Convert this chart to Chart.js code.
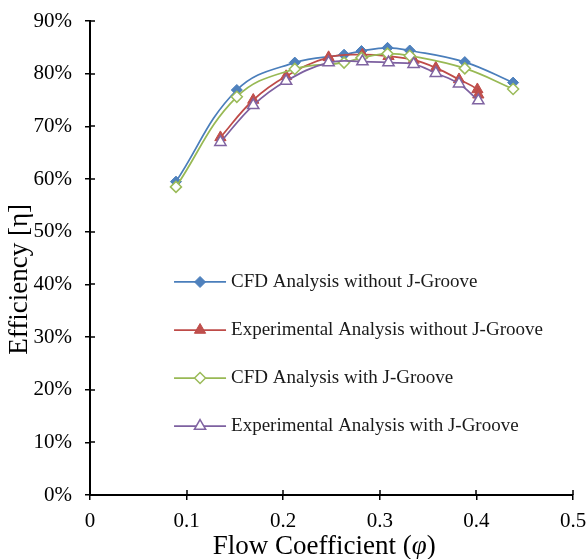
<!DOCTYPE html>
<html>
<head>
<meta charset="utf-8">
<script src="https://cdn.jsdelivr.net/npm/chart.js"></script>
<style>
  html, body { margin: 0; padding: 0; background: #ffffff; }
  #wrap { width: 587px; height: 559px; position: relative; }
  canvas { display: block; }
</style>
</head>
<body>
<div id="wrap"><canvas id="chart" width="587" height="559"></canvas></div>
<script>
// Flow coefficient (phi) at each operating point
const phiCfd = [0.089, 0.152, 0.212, 0.263, 0.281, 0.308, 0.331, 0.388, 0.438];
const phiExpWithout = [0.135, 0.169, 0.203, 0.247, 0.282, 0.309, 0.335, 0.358, 0.382, 0.401, 0.402];
const phiExpWith = [0.135, 0.169, 0.203, 0.247, 0.282, 0.309, 0.335, 0.358, 0.382, 0.402];

// Efficiency in percent
const effCfdWithout = [59.5, 76.9, 82.1, 83.6, 84.3, 84.9, 84.4, 82.2, 78.3];
const effExpWithout = [67.9, 75.0, 79.5, 83.1, 83.6, 83.3, 82.6, 81.1, 78.9, 77.0, 76.0];
const effCfdWith = [58.5, 75.6, 80.9, 82.1, 83.0, 83.8, 83.4, 81.0, 77.1];
const effExpWith = [67.0, 74.0, 78.6, 82.1, 82.3, 82.1, 81.8, 80.1, 78.1, 74.9];

const seriesNames = [
  'CFD Analysis without J-Groove',
  'Experimental Analysis without J-Groove',
  'CFD Analysis with J-Groove',
  'Experimental Analysis with J-Groove'
];

const xTickLabels = ['0', '0.1', '0.2', '0.3', '0.4', '0.5'];
const yTickLabels = ['0%', '10%', '20%', '30%', '40%', '50%', '60%', '70%', '80%', '90%'];

const FONT = "'Liberation Serif', 'Times New Roman', serif";

function pairs(xs, ys) {
  return xs.map((x, i) => ({ x: x, y: ys[i] }));
}

function marker(ctx, style, x, y, r, fill, stroke, lw) {
  ctx.save();
  ctx.beginPath();
  if (style === 'rectRot') {
    ctx.moveTo(x - r, y);
    ctx.lineTo(x, y - r);
    ctx.lineTo(x + r, y);
    ctx.lineTo(x, y + r);
  } else {
    const a = -Math.PI / 2;
    for (let k = 0; k < 3; k++) {
      const t = a + k * 2 * Math.PI / 3;
      const px = x + Math.cos(t) * r, py = y + Math.sin(t) * r;
      if (k === 0) ctx.moveTo(px, py); else ctx.lineTo(px, py);
    }
  }
  ctx.closePath();
  ctx.fillStyle = fill;
  ctx.fill();
  ctx.lineWidth = lw;
  ctx.strokeStyle = stroke;
  ctx.stroke();
  ctx.restore();
}

// Tick marks that cross into the plot, axis titles and the in-plot legend
const decorations = {
  id: 'decorations',
  afterDraw(chart) {
    const ctx = chart.ctx;
    const a = chart.chartArea;
    const xs = chart.scales.x, ys = chart.scales.y;
    ctx.save();
    ctx.strokeStyle = '#000';
    ctx.lineWidth = 1.5;
    xs.ticks.forEach(t => {
      const px = Math.round(xs.getPixelForValue(t.value));
      ctx.beginPath();
      ctx.moveTo(px, a.bottom);
      ctx.lineTo(px, a.bottom - 5);
      ctx.stroke();
    });
    ys.ticks.forEach(t => {
      const py = Math.round(ys.getPixelForValue(t.value));
      ctx.beginPath();
      ctx.moveTo(a.left, py);
      ctx.lineTo(a.left + 5, py);
      ctx.stroke();
    });

    // y-axis title
    ctx.fillStyle = '#000';
    ctx.font = "27px " + FONT;
    ctx.textAlign = 'center';
    ctx.textBaseline = 'middle';
    ctx.save();
    ctx.translate(20, a.top + 0.545 * (a.bottom - a.top));
    ctx.rotate(-Math.PI / 2);
    ctx.fillText('Efficiency [η]', 0, 0);
    ctx.restore();

    // x-axis title with italic phi
    const parts = [['Flow Coefficient (', 'normal'], ['φ', 'italic'], [')', 'normal']];
    let total = 0;
    parts.forEach(p => { ctx.font = p[1] + " 27px " + FONT; total += ctx.measureText(p[0]).width; });
    let cx = a.left + 0.485 * (a.right - a.left) - total / 2;
    ctx.textAlign = 'left';
    parts.forEach(p => {
      ctx.font = p[1] + " 27px " + FONT;
      ctx.fillText(p[0], cx, 547);
      cx += ctx.measureText(p[0]).width;
    });

    // legend
    const w = a.right - a.left, h = a.bottom - a.top;
    const lx = a.left + 0.174 * w;
    chart.data.datasets.forEach((ds, i) => {
      const ly = a.top + (0.5506 + i * 0.1013) * h;
      ctx.strokeStyle = ds.borderColor;
      ctx.lineWidth = ds.borderWidth;
      ctx.beginPath();
      ctx.moveTo(lx, ly);
      ctx.lineTo(lx + 52, ly);
      ctx.stroke();
      marker(ctx, ds.pointStyle, lx + 26, ly, ds.pointRadius,
             ds.pointBackgroundColor, ds.pointBorderColor, ds.pointBorderWidth);
      ctx.fillStyle = '#1a1a1a';
      ctx.font = "19px " + FONT;
      ctx.textAlign = 'left';
      ctx.textBaseline = 'middle';
      ctx.fillText(ds.label, lx + 57, ly);
    });
    ctx.restore();
  }
};

new Chart(document.getElementById('chart'), {
  type: 'line',
  data: {
    datasets: [
      {
        label: seriesNames[0],
        data: pairs(phiCfd, effCfdWithout),
        borderColor: '#4A7EBB', borderWidth: 1.75,
        pointStyle: 'rectRot', pointRadius: 5.5,
        pointBackgroundColor: '#4F81BD', pointBorderColor: '#4A7EBB', pointBorderWidth: 1,
        tension: 0.4, order: 4
      },
      {
        label: seriesNames[1],
        data: pairs(phiExpWithout, effExpWithout),
        borderColor: '#BE4B48', borderWidth: 1.75,
        pointStyle: 'triangle', pointRadius: 6.5,
        pointBackgroundColor: '#C0504D', pointBorderColor: '#BE4B48', pointBorderWidth: 1,
        tension: 0.4, order: 3
      },
      {
        label: seriesNames[2],
        data: pairs(phiCfd, effCfdWith),
        borderColor: '#98B954', borderWidth: 1.75,
        pointStyle: 'rectRot', pointRadius: 5.5,
        pointBackgroundColor: '#ffffff', pointBorderColor: '#9BBB59', pointBorderWidth: 1.5,
        tension: 0.4, order: 2
      },
      {
        label: seriesNames[3],
        data: pairs(phiExpWith, effExpWith),
        borderColor: '#7D60A0', borderWidth: 1.75,
        pointStyle: 'triangle', pointRadius: 6.5,
        pointBackgroundColor: '#ffffff', pointBorderColor: '#8064A2', pointBorderWidth: 1.5,
        tension: 0.4, order: 1
      }
    ]
  },
  options: {
    responsive: false,
    animation: false,
    layout: { padding: { left: 0, top: 21, right: 14, bottom: 0 } },
    plugins: { legend: { display: false }, tooltip: { enabled: false } },
    scales: {
      x: {
        type: 'linear', min: 0, max: 0.5,
        afterFit: s => { s.height = 64; s.paddingLeft = 0; s.paddingRight = 0; },
        border: { display: true, color: '#000', width: 2 },
        grid: { display: true, drawOnChartArea: false, drawTicks: true, tickLength: 5, color: '#000', lineWidth: 1.5 },
        ticks: {
          stepSize: 0.1, padding: 9, color: '#000',
          font: { family: FONT, size: 21 },
          callback: (v, i) => xTickLabels[i]
        }
      },
      y: {
        min: 0, max: 90,
        afterFit: s => { s.width = 90; s.paddingTop = 0; s.paddingBottom = 0; },
        border: { display: true, color: '#000', width: 2 },
        grid: { display: true, drawOnChartArea: false, drawTicks: true, tickLength: 5, color: '#000', lineWidth: 1.5 },
        ticks: {
          stepSize: 10, padding: 13, color: '#000',
          font: { family: FONT, size: 21 },
          callback: (v, i) => yTickLabels[i]
        }
      }
    }
  },
  plugins: [decorations]
});
</script>
</body>
</html>
